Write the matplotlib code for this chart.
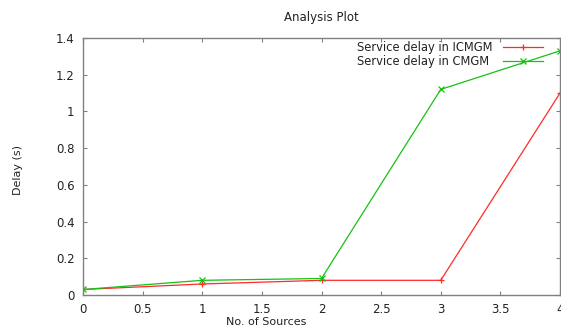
import matplotlib
matplotlib.use("Agg")
import matplotlib.pyplot as plt

# data
sources = [0, 1, 2, 3, 4]
delay_icmgm = [0.03, 0.06, 0.08, 0.08, 1.10]
delay_cmgm = [0.03, 0.08, 0.09, 1.12, 1.33]
labels = ["Service delay in ICMGM", "Service delay in CMGM"]
xticks = [0, 0.5, 1, 1.5, 2, 2.5, 3, 3.5, 4]
xtick_labels = ["0", "0.5", "1", "1.5", "2", "2.5", "3", "3.5", "4"]
yticks = [0, 0.2, 0.4, 0.6, 0.8, 1.0, 1.2, 1.4]
ytick_labels = ["0", "0.2", "0.4", "0.6", "0.8", "1", "1.2", "1.4"]

W, H = 561, 328
fig = plt.figure(figsize=(W / 100, H / 100), dpi=100)
L, R, T, B = 83, 560, 38, 295
ax = fig.add_axes([L / W, 1 - B / H, (R - L) / W, (B - T) / H])

styles = [dict(color="#ff2a2a", marker="+", ms=5),
          dict(color="#16c016", marker="x", ms=4)]
series = [delay_icmgm, delay_cmgm]
for ys, st in zip(series, styles):
    ax.plot(sources, ys, lw=0.9, mew=0.9, **st)

ax.set_xlim(0, 4)
ax.set_ylim(0, 1.4)
ax.set_xticks(xticks)
ax.set_xticklabels(xtick_labels)
ax.set_yticks(yticks)
ax.set_yticklabels(ytick_labels)
ax.tick_params(direction="in", top=True, right=True, length=3, width=0.8,
               color="#808080", labelsize=8.5, labelcolor="#222222", pad=6)
for s in ax.spines.values():
    s.set_color("#808080")
    s.set_linewidth(1.0)

# gnuplot-style key: left-aligned text, sample line to the right
def ax_x(px):
    return (px - L) / (R - L)

def ax_y(py):
    return (B - py) / (B - T)

for i, (lab, st) in enumerate(zip(labels, styles)):
    yy = ax_y(47 + 14 * i)
    ax.text(ax_x(357), yy, lab, transform=ax.transAxes, ha="left", va="center",
            fontsize=8.3, color="#222222")
    ax.plot([ax_x(503), ax_x(543)], [yy, yy], transform=ax.transAxes,
            color=st["color"], lw=0.9, clip_on=False)
    ax.plot([ax_x(523)], [yy], transform=ax.transAxes, color=st["color"],
            marker=st["marker"], ms=st["ms"], mew=0.9, clip_on=False)

fig.text((L + R) / 2 / W, 1 - 17 / H, "Analysis Plot", ha="center", va="center",
         fontsize=8.5, color="#222222")
fig.text(266 / W, 1 - 322 / H, "No. of Sources", ha="center", va="center",
         fontsize=8, color="#222222")
fig.text(18 / W, 1 - 170 / H, "Delay (s)", ha="center", va="center",
         rotation=90, fontsize=8, color="#222222")

fig.savefig("out.png", dpi=100)
